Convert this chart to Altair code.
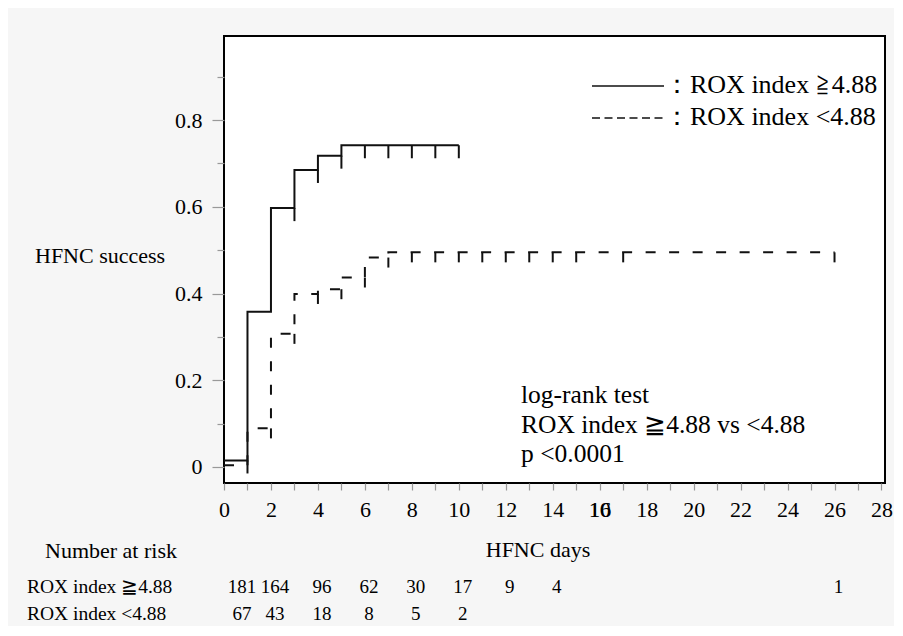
import altair as alt
import pandas as pd

# ---------------- data ----------------
# Kaplan-Meier step curves (HFNC success)
hi_days = [0, 1, 2, 3, 4, 5, 10]
hi_surv = [0.015, 0.358, 0.597, 0.685, 0.718, 0.742, 0.742]
lo_days = [0, 1, 2, 3, 4, 5, 6, 7, 26]
lo_surv = [0.004, 0.089, 0.307, 0.399, 0.410, 0.437, 0.483, 0.495, 0.495]

# censoring marks
hi_cens_days = [1, 3, 4, 5, 6, 7, 8, 9, 10]
hi_cens_surv = [0.015, 0.597, 0.685, 0.718, 0.742, 0.742, 0.742, 0.742, 0.742]
lo_cens_days = [2, 3, 4, 5, 6, 7, 8, 9, 10, 11, 12, 13, 14, 15, 17, 26]
lo_cens_surv = [0.089, 0.307, 0.399, 0.410, 0.437, 0.483,
                0.495, 0.495, 0.495, 0.495, 0.495, 0.495, 0.495, 0.495, 0.495, 0.495]

# number at risk table
risk_days_hi = [0, 2, 4, 6, 8, 10, 12, 14, 26]
risk_hi = ["181", "164", "96", "62", "30", "17", "9", "4", "1"]
risk_days_lo = [0, 2, 4, 6, 8, 10]
risk_lo = ["67", "43", "18", "8", "5", "2"]

# axis ticks
x_tick_values = list(range(0, 29))
y_tick_values = [0, 0.1, 0.2, 0.3, 0.4, 0.5, 0.6, 0.7, 0.8, 0.9]

# texts
y_title = "HFNC success"
x_title = "HFNC days"
legend_hi = "：ROX index ≧4.88"
legend_lo = "：ROX index <4.88"
annot_lines = ["log-rank test", "ROX index ≧4.88 vs <4.88", "p <0.0001"]
risk_title = "Number at risk"
risk_label_hi = "ROX index ≧4.88"
risk_label_lo = "ROX index <4.88"
glitch_day = [16]
glitch_text = ["10"]

# ---------------- chart ----------------
W, H = 661, 447
FONT = "Liberation Serif"
INK = "#111111"

x_scale = alt.Scale(domain=[0, 28.15], nice=False, zero=False)
y_scale = alt.Scale(domain=[-0.037, 0.994], nice=False, zero=False)

x_axis = alt.Axis(
    values=x_tick_values,
    labelExpr="datum.value % 2 == 0 ? datum.label : ''",
    tickSize=7, tickColor="#999999", tickWidth=1.2,
    domain=False, grid=False, title=None,
    labelFont=FONT, labelFontSize=22, labelColor="black",
    labelPadding=9, labelOverlap=False, labelFlush=False, labelBound=False,
)
y_axis = alt.Axis(
    values=y_tick_values,
    labelExpr="round(datum.value*10) % 2 == 1 ? '' : (datum.value == 0 ? '0' : format(datum.value, '.1f'))",
    tickSize={"condition": {"test": "round(datum.value*10) % 2 == 1", "value": 7}, "value": 12},
    tickColor="#999999", tickWidth=1.2,
    domain=False, grid=False, title=None,
    labelFont=FONT, labelFontSize=22, labelColor="black",
    labelPadding=10, labelOverlap=False, labelFlush=False, labelBound=False,
)

df_hi = pd.DataFrame({"day": hi_days, "surv": hi_surv})
df_lo = pd.DataFrame({"day": lo_days, "surv": lo_surv})
df_hc = pd.DataFrame({"day": hi_cens_days, "surv": hi_cens_surv})
df_lc = pd.DataFrame({"day": lo_cens_days, "surv": lo_cens_surv})

line_hi = alt.Chart(df_hi).mark_line(
    interpolate="step-after", color=INK, strokeWidth=2
).encode(
    x=alt.X("day:Q", scale=x_scale, axis=x_axis),
    y=alt.Y("surv:Q", scale=y_scale, axis=y_axis),
)
line_lo = alt.Chart(df_lo).mark_line(
    interpolate="step-after", color=INK, strokeWidth=2, strokeDash=[10, 13.5]
).encode(
    x=alt.X("day:Q", scale=x_scale, axis=x_axis),
    y=alt.Y("surv:Q", scale=y_scale, axis=y_axis),
)
cens_hi = alt.Chart(df_hc).mark_rule(color=INK, strokeWidth=2, y2Offset=13).encode(
    x=alt.X("day:Q", scale=x_scale, axis=x_axis),
    y=alt.Y("surv:Q", scale=y_scale, axis=y_axis),
    y2=alt.Y2("surv"),
)
cens_lo = alt.Chart(df_lc).mark_rule(color=INK, strokeWidth=2, y2Offset=10).encode(
    x=alt.X("day:Q", scale=x_scale, axis=x_axis),
    y=alt.Y("surv:Q", scale=y_scale, axis=y_axis),
    y2=alt.Y2("surv"),
)


def label(text, x, y, size=22, align="left"):
    return alt.Chart(pd.DataFrame({"t": [text]})).mark_text(
        font=FONT, fontSize=size, color="black", align=align, baseline="alphabetic"
    ).encode(x=alt.value(x), y=alt.value(y), text="t:N")


one = pd.DataFrame({"k": [0]})
leg_line_hi = alt.Chart(one).mark_rule(color=INK, strokeWidth=1.6).encode(
    x=alt.value(368), x2=alt.value(440), y=alt.value(50)
)
leg_line_lo = alt.Chart(one).mark_rule(color=INK, strokeWidth=1.6, strokeDash=[8, 4.5]).encode(
    x=alt.value(368), x2=alt.value(440), y=alt.value(82)
)

texts = [
    label(y_title, -189, 227),
    label(x_title, 314, 521, align="center"),
    label(legend_hi, 440, 57, size=26),
    label(legend_lo, 440, 89, size=26),
    label(annot_lines[0], 297, 367, size=25.5),
    label(annot_lines[1], 297, 397, size=25.5),
    label(annot_lines[2], 297, 426, size=25.5),
    label(risk_title, -179, 522),
    label(risk_label_hi, -197, 557, size=19.5),
    label(risk_label_lo, -197, 584, size=19.5),
]

df_rh = pd.DataFrame({"day": risk_days_hi, "n": risk_hi})
df_rl = pd.DataFrame({"day": risk_days_lo, "n": risk_lo})


def risk_row(df, y):
    first = alt.Chart(df.iloc[:1]).mark_text(
        font=FONT, fontSize=19, color="black", baseline="alphabetic", dx=18
    ).encode(x=alt.X("day:Q", scale=x_scale, axis=x_axis), y=alt.value(y), text="n:N")
    rest = alt.Chart(df.iloc[1:]).mark_text(
        font=FONT, fontSize=19, color="black", baseline="alphabetic", dx=4
    ).encode(x=alt.X("day:Q", scale=x_scale, axis=x_axis), y=alt.value(y), text="n:N")
    return [first, rest]


glitch = alt.Chart(pd.DataFrame({"day": glitch_day, "t": glitch_text})).mark_text(
    font=FONT, fontSize=22, color="black", baseline="alphabetic"
).encode(x=alt.X("day:Q", scale=x_scale, axis=x_axis), y=alt.value(481), text="t:N")

chart = alt.layer(
    line_hi, line_lo, cens_hi, cens_lo, leg_line_hi, leg_line_lo, glitch,
    *texts, *risk_row(df_rh, 557), *risk_row(df_rl, 584),
).properties(
    width=W, height=H,
    padding={"left": 216, "top": 28, "right": 9, "bottom": 143},
    autosize=alt.AutoSizeParams(type="none"),
    background="#f6f6f6",
).configure_view(
    stroke="black", strokeWidth=2, fill="white"
)

chart.save("out.html", embed_options={"renderer": "svg", "actions": False})
